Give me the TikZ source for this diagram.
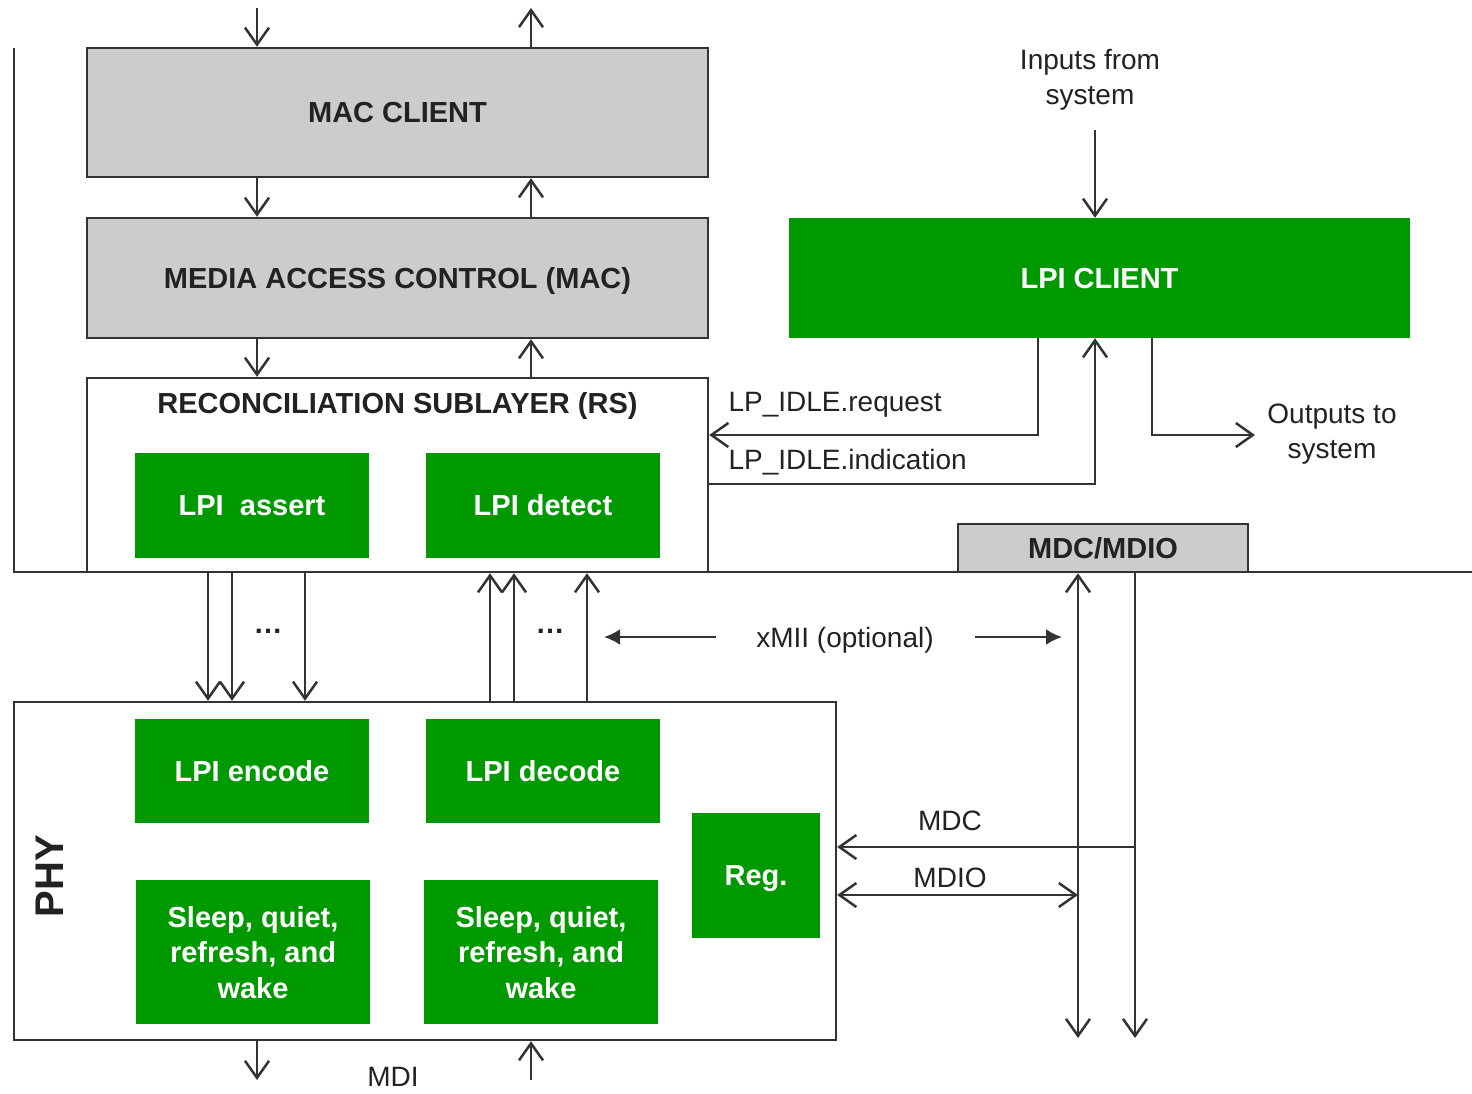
\documentclass[tikz,border=0pt]{standalone}
\usepackage{fontspec}
\setmainfont{Liberation Sans}
\usetikzlibrary{arrows.meta}
\definecolor{lgreen}{HTML}{009900}
\definecolor{lgray}{HTML}{CCCCCC}
\definecolor{ink}{HTML}{333333}
\definecolor{txt}{HTML}{222222}
\begin{document}
\begin{tikzpicture}[x=1pt,y=-1pt,
  bf/.style={font=\fontsize{29}{35.5}\selectfont\bfseries},
  rg/.style={font=\fontsize{28}{35}\selectfont, text=txt},
  graybox/.style={draw=ink, line width=2.4pt, fill=lgray, inner sep=0pt, bf, text=txt},
  greenbox/.style={fill=lgreen, inner sep=0pt, bf, text=white, align=center},
  wbox/.style={draw=ink, line width=2.4pt, fill=white, inner sep=0pt},
  conn/.style={draw=ink, line width=2.5pt},
  arr/.style={conn, -{Straight Barb[length=17pt,width=24pt]}},
  darr/.style={conn, {Straight Barb[length=17pt,width=24pt]}-{Straight Barb[length=17pt,width=24pt]}},
  farr/.style={conn, -{Latex[length=16pt,width=16pt]}},
]
\useasboundingbox[fill=white] (0,0) rectangle (1472,1093);

% frame lines
\coordinate (ftop) at (14,48);
\coordinate (fcorner) at (14,572);
\coordinate (fright) at (1472,572);
\draw[conn, line width=2pt] (ftop) -- (fcorner) -- (fright);

% upper stack
\node[graybox, minimum width=621pt, minimum height=129pt, text depth=-2pt] (macc) at (397.5,112.5) {MAC CLIENT};
\node[graybox, minimum width=621pt, minimum height=120pt, text depth=-2pt] (mac) at (397.5,278) {MEDIA ACCESS CONTROL (MAC)};
\node[wbox, minimum width=621pt, minimum height=194pt] (rs) at (397.5,475) {};
\node[bf, text=txt] (rstitle) at (397.5,406) {RECONCILIATION SUBLAYER (RS)};
\node[greenbox, minimum width=234pt, minimum height=105pt] (assert) at (252,505.5) {LPI\ \ assert};
\node[greenbox, minimum width=234pt, minimum height=105pt] (detect) at (543,505.5) {LPI detect};

% LPI client and MDC/MDIO
\node[greenbox, minimum width=621pt, minimum height=120pt, text depth=-2pt] (lpic) at (1099.5,278) {LPI CLIENT};
\node[graybox, minimum width=290pt, minimum height=48pt] (mdio) at (1103,548) {MDC/MDIO};

% PHY
\node[wbox, minimum width=822pt, minimum height=338pt] (phy) at (425,871) {};
\node[greenbox, minimum width=234pt, minimum height=104pt] (enc) at (252,771) {LPI encode};
\node[greenbox, minimum width=234pt, minimum height=104pt] (dec) at (543,771) {LPI decode};
\node[greenbox, minimum width=234pt, minimum height=144pt, text depth=-4pt] (sl1) at (253,952) {Sleep, quiet,\\refresh, and\\wake};
\node[greenbox, minimum width=234pt, minimum height=144pt, text depth=-4pt] (sl2) at (541,952) {Sleep, quiet,\\refresh, and\\wake};
\node[greenbox, minimum width=128pt, minimum height=125pt, text depth=-3pt] (reg) at (756,875.5) {Reg.};
\node[font=\fontsize{40}{40}\selectfont\bfseries, text=txt, rotate=90] (phylabel) at (50,876) {PHY};

% stack arrows
\coordinate (t1) at (257,8);
\coordinate (t2) at (531,8);
\draw[arr] (t1) -- (t1 |- macc.north);
\draw[arr] (t2 |- macc.north) -- (t2);
\draw[arr] (t1 |- macc.south) -- (t1 |- mac.north);
\draw[arr] (t2 |- mac.north) -- (t2 |- macc.south);
\draw[arr] (t1 |- mac.south) -- (t1 |- rs.north);
\draw[arr] (t2 |- rs.north) -- (t2 |- mac.south);

% inputs
\node[rg, align=center] (inp) at (1090,80) {Inputs from\\system};
\coordinate (i1) at (1095,130);
\draw[arr] (i1) -- (i1 |- lpic.north);

% LP_IDLE
\coordinate (rq) at (1038,435);
\draw[arr] (rq |- lpic.south) -- (rq) -- (rq -| rs.east);
\node[rg, anchor=west] (rqt) at (725,405) {LP\_IDLE.request};
\coordinate (ind) at (1095,484);
\draw[arr] (ind -| rs.east) -- (ind) -- (ind |- lpic.south);
\node[rg, anchor=west] (indt) at (725,462) {LP\_IDLE.indication};

% outputs
\coordinate (o1) at (1152,435);
\coordinate (o2) at (1255,435);
\draw[arr] (o1 |- lpic.south) -- (o1) -- (o2);
\node[rg, align=center] (outt) at (1332,434) {Outputs to\\system};

% xMII signals
\foreach \i/\x in {1/208,2/232,3/305}{
  \coordinate (d\i) at (\x,0);
  \draw[arr] (d\i |- rs.south) -- (d\i |- phy.north);
}
\foreach \i/\x in {1/490,2/514,3/587}{
  \coordinate (u\i) at (\x,0);
  \draw[arr] (u\i |- phy.north) -- (u\i |- rs.south);
}
\node[bf, text=txt] (dots1) at (268,631) {…};
\node[bf, text=txt] (dots2) at (550,631) {…};
\node[rg] (xmii) at (845,640) {xMII (optional)};
\coordinate (xl) at (604,637);
\coordinate (xr) at (1062,637);
\draw[farr, shorten <=37pt] (xmii.west |- xl) -- (xl);
\draw[farr, shorten <=38pt] (xmii.east |- xr) -- (xr);

% MDC / MDIO
\coordinate (m1b) at (1078,1038);
\coordinate (m2b) at (1135,1038);
\draw[darr] (m1b |- mdio.south) -- (m1b);
\draw[arr] (m2b |- mdio.south) -- (m2b);
\coordinate (mdcj) at (1135,847);
\draw[arr] (mdcj) -- (mdcj -| phy.east);
\node[rg] (mdct) at (950,821) {MDC};
\coordinate (mdioj) at (1078,895);
\draw[darr] (mdioj -| phy.east) -- (mdioj);
\node[rg] (mdiot) at (950,878) {MDIO};

% MDI
\coordinate (mb1) at (257,1080);
\coordinate (mb2) at (531,1080);
\draw[arr] (mb1 |- phy.south) -- (mb1);
\draw[arr] (mb2) -- (mb2 |- phy.south);
\node[rg] (mdit) at (393,1077) {MDI};
\end{tikzpicture}
\end{document}
